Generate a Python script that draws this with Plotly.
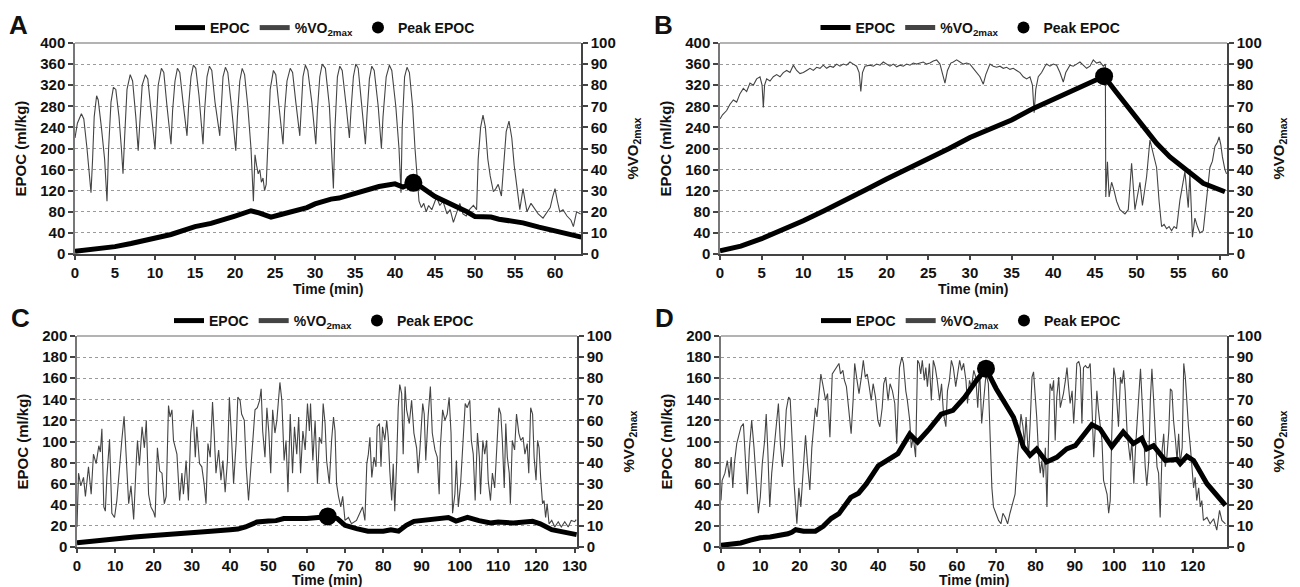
import plotly.graph_objects as go

# ---------------- DATA ----------------
# Panel A
A_EPOC = [(0, 5), (2, 8), (4, 11), (5, 14), (7, 20), (10, 30), (12, 37), (15, 52), (17, 58), (20, 72),
          (22, 82), (23, 78), (24.5, 70), (25.5, 74), (27, 80), (29, 88), (30, 95), (32, 104), (33, 106),
          (35, 115), (37, 122), (38, 128), (40, 133), (41, 127), (42.3, 135), (43, 130), (45, 109),
          (47, 95), (49, 80), (50, 71), (51, 70), (52, 70), (53, 66), (55, 61), (56, 59), (58, 51),
          (60, 44), (62, 37), (63.3, 32)]
A_PEAK = (42.3, 135)
A_VO2 = [(0.0, 55), (0.3, 62), (0.8, 66.5), (1.1, 64), (1.5, 50), (1.8, 38), (2.0, 29), (2.2, 45), (2.4, 65),
         (2.7, 75), (2.9, 73), (3.3, 60), (3.7, 45), (4.0, 25), (4.2, 50), (4.5, 72), (4.8, 79), (5.1, 78),
         (5.5, 65), (5.8, 50), (6.0, 38), (6.2, 55), (6.5, 78), (6.9, 85), (7.2, 82), (7.6, 65), (7.9, 49),
         (8.1, 62), (8.4, 80), (8.8, 85), (9.1, 83), (9.5, 68), (10.0, 49.5), (10.2, 65), (10.4, 80),
         (10.8, 88), (11.1, 86), (11.5, 70), (12.0, 52), (12.2, 68), (12.5, 82), (12.8, 88), (13.1, 86),
         (13.5, 72), (14.0, 56), (14.2, 70), (14.5, 84), (14.8, 89.5), (15.1, 88), (15.5, 75), (16.0, 52),
         (16.2, 68), (16.5, 84), (16.8, 89), (17.1, 87), (17.5, 72), (18.1, 56), (18.3, 70), (18.5, 84),
         (18.8, 88.5), (19.1, 86), (19.5, 72), (20.1, 49), (20.3, 65), (20.6, 82), (20.9, 88), (21.2, 85),
         (21.6, 70), (22.0, 50), (22.3, 25), (22.5, 47), (22.7, 42), (22.9, 38), (23.1, 40), (23.3, 34),
         (23.5, 36), (23.7, 30), (23.9, 33), (24.1, 55), (24.4, 78), (24.8, 87), (25.1, 85), (25.5, 70),
         (26.0, 52), (26.2, 68), (26.5, 82), (26.9, 88), (27.2, 86), (27.6, 72), (28.1, 56), (28.3, 70),
         (28.5, 84), (28.8, 89.5), (29.1, 87), (29.6, 72), (30.1, 52), (30.3, 68), (30.6, 84), (30.9, 90),
         (31.3, 88), (31.8, 70), (32.3, 31), (32.5, 60), (32.8, 84), (33.1, 89), (33.4, 87), (33.9, 70),
         (34.3, 55), (34.5, 68), (34.8, 84), (35.1, 90), (35.4, 88), (35.8, 72), (36.3, 52), (36.5, 66),
         (36.8, 83), (37.1, 89), (37.4, 87), (37.9, 70), (38.3, 50), (38.5, 65), (38.9, 84), (39.3, 89.5),
         (39.6, 87), (40.1, 70), (40.5, 50), (40.75, 29), (40.9, 60), (41.2, 84), (41.5, 88.5), (41.8, 86),
         (42.2, 70), (42.5, 50), (42.75, 37), (43.0, 25), (43.3, 22), (43.6, 24), (43.9, 20), (44.2, 23),
         (44.6, 21), (45.2, 27), (45.6, 23), (46.0, 25), (46.5, 19), (46.9, 21), (47.3, 15), (47.7, 20),
         (48.1, 24), (48.5, 19), (48.9, 18), (49.3, 21), (49.8, 23), (50.2, 21), (50.4, 45), (50.7, 60),
         (51.0, 65.8), (51.3, 60), (51.6, 45), (51.9, 37), (52.3, 29.5), (52.6, 31), (52.9, 33), (53.3, 27.5),
         (53.6, 45), (53.9, 58), (54.25, 63), (54.6, 55), (54.9, 42), (55.2, 33), (55.6, 21), (56.0, 31),
         (56.5, 20), (57.0, 24), (57.3, 22.5), (57.9, 19), (58.5, 17), (59.0, 20), (59.4, 22), (59.7, 27),
         (60.0, 31), (60.3, 25), (60.6, 20), (61.0, 21), (61.5, 18), (62.0, 16), (62.3, 13), (62.7, 20),
         (63.2, 19)]

# Panel B
B_EPOC = [(0, 6), (2.5, 15), (5, 29), (7.5, 45), (10, 63), (12.5, 82), (15, 101), (17.5, 122), (20, 142),
          (22.5, 161), (25, 180), (27.5, 200), (30, 221), (32.5, 238), (35, 254), (37.6, 276), (40, 293),
          (43, 315), (46.1, 337), (47.5, 308), (49.2, 273), (51.2, 232), (52.4, 210), (54, 184),
          (55.6, 165), (58, 134), (60.6, 118)]
B_PEAK = (46.1, 337)
B_VO2 = [(0.0, 64), (0.3, 66), (0.8, 68), (1.2, 71), (1.6, 73), (2.0, 72), (2.4, 76), (2.8, 78.5), (3.2, 77),
         (3.6, 81), (4.0, 80), (4.4, 83), (4.8, 84), (5.05, 80), (5.2, 69.5), (5.35, 80), (5.6, 83), (6.0, 82),
         (6.4, 84), (6.8, 85), (7.2, 84), (7.6, 86), (8.0, 87), (8.4, 86), (8.8, 89.5), (9.2, 87), (9.6, 85.5),
         (10.0, 86), (10.4, 87), (10.8, 88), (11.2, 87), (11.6, 88.5), (12.0, 88), (12.4, 89.5), (12.8, 88),
         (13.2, 89), (13.6, 88.5), (14.0, 90), (14.4, 89), (14.8, 90), (15.2, 89.5), (15.6, 91), (16.0, 90),
         (16.4, 89), (16.7, 86), (16.9, 77), (17.1, 86), (17.4, 89), (18.0, 89.5), (18.4, 89), (18.8, 90),
         (19.2, 89.5), (19.6, 91), (20.0, 90), (20.4, 89), (20.8, 90), (21.2, 88.7), (21.6, 89.5), (22.0, 89),
         (22.4, 90), (22.8, 89.5), (23.2, 90.5), (23.6, 90), (24.0, 90.5), (24.4, 91), (24.8, 90), (25.2, 90.5),
         (25.6, 91.5), (26.0, 92), (26.4, 90), (26.7, 86), (27.0, 81), (27.3, 87), (27.7, 90.5), (28.0, 91),
         (28.4, 92), (28.8, 91), (29.2, 90), (29.6, 90.5), (30.0, 90), (30.4, 88), (30.8, 86), (31.2, 84),
         (31.6, 80.5), (31.9, 85), (32.4, 90), (32.8, 89), (33.2, 88.5), (33.6, 89), (34.0, 88), (34.4, 88.5),
         (34.8, 87.5), (35.2, 88), (35.6, 87), (36.0, 86), (36.4, 84), (36.8, 83), (37.2, 84), (37.5, 80),
         (37.7, 67), (37.9, 78), (38.2, 84), (38.6, 86), (39.0, 89), (39.2, 90), (39.6, 89), (40.0, 90),
         (40.4, 89.5), (40.8, 86), (41.2, 81.5), (41.5, 86), (42.0, 89.5), (42.4, 89), (42.8, 90), (43.2, 91),
         (43.6, 89.5), (44.0, 88), (44.4, 89), (44.8, 92), (45.2, 90.5), (45.6, 91), (46.0, 89), (46.25, 90),
         (46.3, 27), (46.5, 43.7), (46.7, 27), (47.0, 34), (47.3, 30), (47.6, 25), (48.0, 21), (48.3, 20),
         (48.6, 19), (49.0, 21), (49.4, 43), (49.8, 21), (50.1, 28), (50.4, 34), (50.7, 23), (51.0, 30),
         (51.2, 36.6), (51.6, 54), (52.0, 47.6), (52.4, 41), (52.7, 25), (53.0, 13), (53.3, 14), (53.6, 12),
         (53.9, 13), (54.2, 11), (54.5, 13), (54.8, 12), (55.2, 25.5), (55.8, 39), (56.2, 22), (56.4, 38),
         (56.7, 8), (57.0, 17), (57.3, 13), (57.6, 10), (58.0, 11), (58.4, 25.5), (58.8, 41), (59.1, 44),
         (59.4, 51), (59.7, 53), (59.9, 55.5), (60.1, 52), (60.3, 46), (60.6, 40), (60.8, 38)]

# Panel C
C_EPOC = [(0, 4), (5, 6), (10, 8.5), (15, 9.5), (20, 11), (25, 12), (30, 14), (35, 15), (40, 16.4), (42, 17),
          (44, 19), (47, 23.7), (50, 24.6), (52, 25), (54, 27), (57, 26.5), (60, 27), (63, 28), (65.5, 29),
          (68, 27), (70, 20.5), (73, 17.4), (76, 15), (80, 15), (82, 16.4), (84, 15), (86, 20.5), (88, 24.3),
          (92, 26), (94, 26), (97, 28), (99, 24.6), (102, 28), (105, 25), (108, 22.7), (110, 23.7),
          (114, 22.7), (119, 24.3), (121, 22), (124, 16.4), (127, 14), (130.5, 11.7)]
C_PEAK = (65.5, 29)
C_VO2 = [(0, 9.5), (0.4, 35), (1.0, 29), (1.7, 33), (2.2, 24), (3.0, 38), (3.7, 25), (4.3, 44), (5.0, 39.5),
         (5.7, 48), (6.1, 45), (6.5, 56), (7.0, 19), (7.4, 17), (7.8, 33), (8.5, 51), (9.1, 16), (9.8, 14),
         (10.4, 22), (11.1, 39.5), (11.7, 50.5), (12.3, 62), (12.9, 42.6), (13.5, 20.5), (14.1, 29), (14.8, 13),
         (15.5, 41), (15.8, 50.5), (16.3, 38.7), (17.0, 57), (17.6, 47), (18.1, 60), (18.7, 25), (19.3, 19),
         (20.0, 16.6), (20.4, 14), (21.0, 47), (21.6, 36), (22.2, 35), (22.8, 20.5), (23.3, 24), (23.9, 67),
         (24.3, 61.6), (24.8, 65), (25.2, 50.5), (25.7, 47), (26.1, 44), (26.8, 22), (27.4, 35), (27.8, 25),
         (28.5, 41), (29.1, 22), (29.7, 54), (30.3, 65), (30.9, 42.6), (31.3, 57), (32.0, 39.5), (32.6, 38),
         (33.2, 30), (33.7, 20.5), (34.2, 49), (34.8, 42.6), (35.4, 68.7), (35.8, 55), (36.3, 35), (37.0, 46),
         (37.6, 31.6), (38.1, 41), (38.7, 26), (39.3, 41), (39.8, 71), (40.4, 50.5), (40.9, 30), (41.6, 50.5),
         (42.0, 71), (42.6, 69.5), (43.0, 63), (43.7, 60), (44.2, 38), (44.8, 22), (45.4, 36), (45.9, 49),
         (46.5, 65), (47.1, 66), (47.7, 69.5), (48.1, 75), (48.5, 55), (49.1, 42.6), (49.6, 66), (50.1, 54.5),
         (50.6, 35), (51.1, 65), (51.7, 54), (52.2, 60), (52.8, 72.7), (53.0, 78), (53.5, 69.5), (54.1, 41),
         (54.6, 50.5), (55.1, 26), (55.7, 63), (56.3, 35), (56.8, 57), (57.4, 44), (57.9, 61.6), (58.4, 35),
         (59.0, 55), (59.6, 46), (60.2, 68), (60.7, 55), (61.0, 68), (61.6, 41), (62.2, 60), (62.8, 30),
         (63.3, 52), (63.9, 49), (64.3, 68), (64.8, 58.5), (65.2, 41), (65.9, 30), (66.5, 50.5), (67.0, 61.6),
         (67.4, 55), (67.8, 30), (68.3, 24), (68.9, 19), (69.4, 24), (70.0, 12.6), (70.9, 14), (71.7, 11),
         (73.0, 12.6), (73.9, 16), (74.6, 19), (75.2, 12.6), (75.7, 39.5), (76.1, 44), (76.5, 52), (77.0, 33),
         (77.6, 42.6), (78.1, 38), (78.4, 57), (79.0, 58.5), (79.4, 38), (79.8, 57), (80.4, 50.5), (80.9, 60),
         (81.3, 52), (81.7, 36), (82.2, 22), (82.6, 39.5), (83.0, 17), (83.5, 41), (83.9, 66), (84.3, 77),
         (84.8, 72.7), (85.2, 44), (85.7, 76), (86.1, 65), (86.8, 58.5), (87.4, 69.5), (88.0, 54), (88.7, 47),
         (89.1, 35), (89.6, 47), (90.3, 68), (90.7, 63), (91.1, 41), (91.7, 61.6), (92.3, 76), (92.8, 54),
         (93.5, 46), (94.1, 42.6), (94.6, 25), (94.9, 47), (95.5, 65), (96.1, 60), (96.7, 63), (97.2, 71),
         (97.7, 54), (98.1, 16), (98.7, 25), (99.1, 41), (99.6, 19), (100.2, 30), (100.9, 54), (101.4, 68),
         (101.9, 66), (102.6, 69.5), (103.0, 50.5), (103.5, 44), (104.0, 22), (104.6, 54), (105.1, 42.6),
         (105.4, 25), (106.0, 50.5), (106.5, 44), (107.0, 50.5), (107.4, 31.6), (108.0, 22), (108.5, 35),
         (109.1, 28), (109.7, 50.5), (110.2, 66), (110.7, 63), (111.1, 50.5), (111.6, 28), (112.0, 58.5),
         (112.4, 42.6), (112.9, 35), (113.2, 20.5), (113.7, 50.5), (114.3, 46), (114.8, 63), (115.4, 54),
         (115.9, 50.5), (116.5, 52), (117.0, 44), (117.6, 49), (118.0, 35), (118.5, 66), (119.0, 63),
         (119.4, 42.6), (119.9, 31.6), (120.3, 50.5), (120.7, 47), (121.1, 33), (121.6, 20.5), (122.0, 22),
         (122.4, 14), (122.8, 20.5), (123.3, 11), (124.0, 12.6), (124.8, 9.5), (125.7, 12), (126.5, 9.5),
         (127.4, 12), (128.3, 9.5), (129.1, 12.6), (130.0, 12), (130.4, 13)]

# Panel D
D_EPOC = [(0, 1.6), (2.5, 2.5), (5, 3.8), (7.5, 6.5), (10, 8.8), (12.5, 9.5), (15, 11), (17, 12.5), (18, 14),
          (19, 16.4), (21, 15), (24, 15), (26, 19.6), (28, 27), (30, 31.6), (33, 47), (35, 51), (37, 60),
          (40, 77), (42, 82), (45, 88.5), (48, 107), (50, 99.5), (53, 112), (56, 126), (59, 129.5), (62, 142),
          (65, 158), (67.4, 169), (70, 150), (72.5, 135), (74.4, 123), (76.9, 95), (78.6, 87), (80.3, 93),
          (82.8, 80.6), (85.4, 85), (87.9, 93), (90.1, 96), (92.2, 106), (94.3, 116), (96.4, 112), (99.4, 95),
          (102.3, 109), (104.9, 98), (107, 103), (108.3, 93), (110, 96), (113, 82), (116, 83), (116.8, 79),
          (118.5, 86), (120.2, 82), (123.6, 60), (128.3, 39.5)]
D_PEAK = (67.4, 169)
D_VO2 = [(0, 22), (0.3, 31.6), (1, 35), (1.6, 41), (2.1, 33), (2.6, 42.6), (3, 28), (3.4, 39.5), (4, 49),
         (4.6, 54), (5.1, 57), (5.7, 58.5), (6.1, 42.6), (6.7, 25), (7.2, 46), (7.8, 60), (8.4, 47), (8.9, 30),
         (9.5, 16), (10, 23.7), (10.5, 39.5), (11.1, 50.5), (11.5, 63), (11.9, 46), (12.4, 19), (12.9, 35),
         (13.5, 46), (14, 57), (14.6, 68), (15.1, 49), (15.6, 38), (16.1, 47), (16.6, 65), (17.2, 71),
         (17.6, 70), (18.1, 50.5), (18.6, 30), (19.3, 11), (19.8, 28), (20.3, 19), (20.9, 35), (21.5, 53),
         (22, 39.5), (22.6, 27), (23.1, 47), (23.6, 60), (24, 66), (24.4, 61.6), (24.9, 72.7), (25.4, 82),
         (26, 76), (26.6, 69.5), (27.1, 72.7), (27.7, 52), (28.3, 82), (28.9, 83.7), (29.4, 85), (30, 87),
         (30.4, 82), (31, 83.7), (31.4, 79), (31.9, 76), (32.5, 65), (33.1, 53.7), (33.6, 69.5), (34, 87),
         (34.6, 79), (35.1, 72.7), (35.7, 80.5), (36.2, 88.5), (36.7, 80.5), (37.2, 82), (37.7, 76),
         (38.2, 69.5), (38.7, 77.4), (39.3, 71), (39.9, 60), (40.4, 57), (41, 66), (41.4, 77.4), (41.9, 80.5),
         (42.5, 69.5), (43, 77.4), (43.6, 74), (44.2, 68), (44.7, 49), (45, 65), (45.4, 85), (46, 90),
         (46.4, 87), (47, 74), (47.4, 69.5), (48, 60), (48.4, 47), (48.9, 52), (49.5, 42.6), (50, 88.5),
         (50.4, 87), (50.8, 82), (51.2, 88.5), (51.7, 79), (52.1, 85), (52.5, 76), (53, 87), (53.5, 69.5),
         (54, 88.5), (54.5, 85), (55, 79), (55.6, 69.5), (56.1, 77.4), (56.6, 63), (57.2, 57), (57.6, 74),
         (58.1, 79), (58.6, 88.5), (59.1, 85), (59.7, 76), (60.2, 82), (60.7, 88.5), (61.2, 83.7), (61.7, 87),
         (62.3, 79), (62.7, 68), (63.2, 79), (63.7, 76), (64.3, 83.7), (64.8, 80.5), (65.3, 66), (65.8, 83.7),
         (66.3, 58.5), (66.8, 69.5), (67.4, 82), (68, 77.4), (68.3, 63), (68.7, 46), (68.9, 28), (69.3, 19),
         (70, 16), (70.6, 12.6), (71.2, 11), (71.7, 16), (72.3, 14), (72.9, 11), (73.5, 16), (74.2, 21),
         (74.8, 25), (75.4, 42.6), (75.9, 57), (76.3, 63), (76.8, 57), (77.2, 49), (77.6, 61.6), (78.2, 42.6),
         (78.6, 57), (79.1, 80.5), (79.5, 83), (79.9, 74), (80.3, 61.6), (80.8, 42.6), (81.2, 35), (81.6, 41),
         (82, 33), (82.5, 47), (82.9, 19), (83.3, 50.5), (83.7, 77.4), (84.2, 74), (84.6, 79), (85, 50.5),
         (85.4, 71), (85.9, 80.5), (86.3, 66), (86.7, 69.5), (87.1, 72.7), (87.6, 79), (88, 85), (88.4, 76),
         (88.8, 68), (89.3, 74), (89.7, 58.5), (90.1, 71), (90.5, 87), (91, 88), (91.4, 85), (91.8, 58.5),
         (92.2, 85), (92.7, 86), (93.1, 85), (93.5, 85), (93.9, 87), (94.3, 69.5), (94.8, 42.6), (95.2, 57),
         (95.6, 74), (96, 65), (96.5, 55), (96.9, 50.5), (97.3, 31.6), (97.7, 28), (98.2, 25), (98.6, 16),
         (99, 22), (99.4, 53.7), (99.9, 85), (100.3, 80.5), (100.7, 69.5), (101.1, 57), (101.6, 80.5),
         (102, 77.4), (102.4, 83.7), (102.8, 74), (103.3, 53.7), (103.7, 46), (104.1, 41), (104.5, 50.5),
         (105, 30), (105.4, 46), (105.8, 57), (106.2, 66), (106.7, 84.5), (107.1, 69.5), (107.5, 50.5),
         (107.9, 38), (108.3, 29), (108.8, 41), (109.2, 69.5), (109.6, 84.5), (110, 71), (110.5, 50.5),
         (110.9, 38), (111.3, 35), (111.7, 14), (112.2, 46), (112.6, 53.7), (113, 38), (113.4, 42.6),
         (113.9, 55), (114.3, 75), (114.7, 74), (115.1, 60), (115.6, 50.5), (116, 41), (116.4, 53.7),
         (116.8, 39.5), (117.3, 47), (117.7, 87), (118.1, 80.5), (118.5, 68), (118.9, 57), (119.4, 47),
         (119.8, 36), (120.2, 28), (120.6, 33), (121, 22), (121.5, 28), (121.9, 19), (122.3, 22), (122.7, 12.6),
         (123.6, 14), (124.4, 11), (125.3, 13.4), (126.1, 8), (126.8, 17.4), (127.4, 12.6), (128.3, 11)]

A_XTICKS = list(range(0, 61, 5))
B_XTICKS = list(range(0, 61, 5))
C_XTICKS = list(range(0, 131, 10))
D_XTICKS = list(range(0, 121, 10))
AB_EPOC_TICKS = list(range(0, 401, 40))
CD_EPOC_TICKS = list(range(0, 201, 20))
VO2_TICKS = list(range(0, 101, 10))

# ---------------- LAYOUT ----------------
W, H = 1300, 587
OFF = 8  # page body margin of the browser
FONT = "Liberation Sans, Arial, sans-serif"


def px_x(p):
    return (p - OFF) / W


def px_y(p):
    return (H - (p - OFF)) / H


panels = [
    dict(letter="A", epoc=A_EPOC, vo2=A_VO2, peak=A_PEAK, xticks=A_XTICKS, xmax=63.25,
         eticks=AB_EPOC_TICKS, emax=400, x0=75, x1=581, y0=43, y1=254, leg="legend", tdy=35),
    dict(letter="B", epoc=B_EPOC, vo2=B_VO2, peak=B_PEAK, xticks=B_XTICKS, xmax=60.85,
         eticks=AB_EPOC_TICKS, emax=400, x0=720, x1=1227, y0=43, y1=254, leg="legend2", tdy=35),
    dict(letter="C", epoc=C_EPOC, vo2=C_VO2, peak=C_PEAK, xticks=C_XTICKS, xmax=130.6,
         eticks=CD_EPOC_TICKS, emax=200, x0=77, x1=577, y0=336, y1=547, leg="legend3", tdy=33),
    dict(letter="D", epoc=D_EPOC, vo2=D_VO2, peak=D_PEAK, xticks=D_XTICKS, xmax=128.7,
         eticks=CD_EPOC_TICKS, emax=200, x0=721, x1=1227, y0=336, y1=547, leg="legend4", tdy=33),
]

fig = go.Figure()
layout = dict(width=W, height=H, autosize=False,
              margin=dict(l=0, r=0, t=0, b=0, pad=0, autoexpand=False),
              paper_bgcolor="white", plot_bgcolor="rgba(0,0,0,0)",
              font=dict(family=FONT, size=14, color="#111"), annotations=[], shapes=[])

tickfont = dict(family=FONT, size=15, color="#111", weight="bold")
AXC = "#444"

for i, p in enumerate(panels):
    n = i + 1
    xa = "xaxis" if n == 1 else f"xaxis{n}"
    xr = "x" if n == 1 else f"x{n}"
    yb_i = 2 * n - 1
    yo_i = 2 * n
    yb = "yaxis" if yb_i == 1 else f"yaxis{yb_i}"
    ybr = "y" if yb_i == 1 else f"y{yb_i}"
    yo = f"yaxis{yo_i}"
    yor = f"y{yo_i}"

    xdom = [px_x(p["x0"]), px_x(p["x1"])]
    ydom = [px_y(p["y1"]), px_y(p["y0"])]

    layout[xa] = dict(domain=xdom, anchor=ybr, range=[0, p["xmax"]], tickvals=p["xticks"],
                      showgrid=False, zeroline=False, showline=True, linecolor=AXC, linewidth=1.5,
                      ticks="outside", ticklen=4, tickcolor=AXC, tickwidth=1.5, tickfont=tickfont,
                      automargin=False)
    layout[yb] = dict(domain=ydom, anchor=xr, side="right", range=[0, 100], tickvals=VO2_TICKS,
                      showgrid=True, gridcolor="#9a9a9a", griddash="dot", gridwidth=1,
                      zeroline=False, showline=True, linecolor=AXC, linewidth=1.5,
                      ticks="outside", ticklen=5, tickcolor=AXC, tickwidth=1.5, tickfont=tickfont,
                      automargin=False)
    layout[yo] = dict(overlaying=ybr, anchor=xr, side="left", range=[0, p["emax"]], tickvals=p["eticks"],
                      showgrid=False, zeroline=False, showline=True, linecolor="#777", linewidth=1.5,
                      ticks="outside", ticklen=5, tickcolor=AXC, tickwidth=1.5, tickfont=tickfont,
                      automargin=False)

    layout["shapes"].append(dict(type="line", xref=f"{xr} domain", yref=f"{ybr} domain",
                                 x0=0, x1=1, y0=1, y1=1, line=dict(color="#9a9a9a", width=1.5)))

    fig.add_trace(go.Scatter(x=[t for t, _ in p["epoc"]], y=[v for _, v in p["epoc"]], mode="lines",
                             name="EPOC", line=dict(color="black", width=5), xaxis=xr, yaxis=yor,
                             legend=p["leg"]))
    fig.add_trace(go.Scatter(x=[t for t, _ in p["vo2"]], y=[v for _, v in p["vo2"]], mode="lines",
                             name="%VO<sub>2max</sub>", line=dict(color="#444", width=1.1), xaxis=xr,
                             yaxis=ybr, legend=p["leg"]))
    fig.add_trace(go.Scatter(x=[p["peak"][0]], y=[p["peak"][1]], mode="markers", name="Peak EPOC",
                             marker=dict(color="black", size=18), xaxis=xr, yaxis=yor,
                             legend=p["leg"]))

    cx = (p["x0"] + p["x1"]) / 2
    layout[p["leg"]] = dict(orientation="h", x=px_x(cx - 3), xanchor="center",
                            y=px_y(p["y0"] - 15), yanchor="middle", bgcolor="rgba(0,0,0,0)",
                            font=dict(family=FONT, size=14, color="#111", weight="bold"),
                            itemwidth=30, tracegroupgap=0, itemsizing="constant")

    # panel letter (top-left); the top pair sits flush with the top of the page
    ly = min(1.0, px_y(p["y0"] - 35))
    layout["annotations"].append(dict(text=f"<b>{p['letter']}</b>", x=px_x(p["x0"] - 57), y=ly,
                                      xref="paper", yref="paper", showarrow=False, xanchor="center",
                                      yanchor="top", font=dict(family=FONT, size=26, color="#111")))
    ymid = (p["y0"] + p["y1"]) / 2
    layout["annotations"].append(dict(text="<b>EPOC (ml/kg)</b>", x=px_x(p["x0"] - 55), y=px_y(ymid),
                                      xref="paper", yref="paper", showarrow=False, textangle=-90,
                                      xanchor="center", yanchor="middle",
                                      font=dict(family=FONT, size=15, color="#111")))
    layout["annotations"].append(dict(text="<b>%VO<sub>2max</sub></b>", x=px_x(p["x1"] + 52), y=px_y(ymid),
                                      xref="paper", yref="paper", showarrow=False, textangle=-90,
                                      xanchor="center", yanchor="middle",
                                      font=dict(family=FONT, size=15, color="#111")))
    layout["annotations"].append(dict(text="<b>Time (min)</b>", x=px_x(cx), y=px_y(p["y1"] + p["tdy"]),
                                      xref="paper", yref="paper", showarrow=False,
                                      xanchor="center", yanchor="middle",
                                      font=dict(family=FONT, size=14, color="#111")))

fig.update_layout(**layout)
fig.write_html("out.html")
